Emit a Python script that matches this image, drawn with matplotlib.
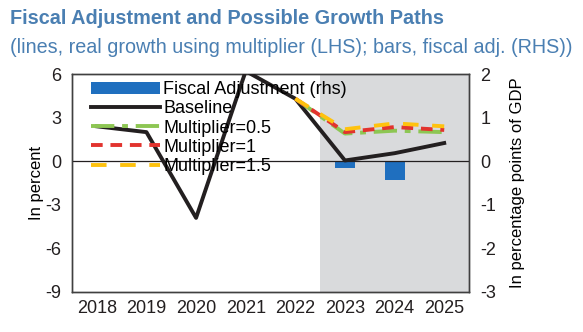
import matplotlib
matplotlib.use("Agg")
import matplotlib.pyplot as plt
import numpy as np

plt.rcParams["font.family"] = ["Liberation Sans", "DejaVu Sans"]
plt.rcParams["axes.unicode_minus"] = False

# ── 데이터 ──
years = ["2018", "2019", "2020", "2021", "2022", "2023", "2024", "2025"]
baseline = [2.4, 2.0, -3.9, 6.2, 4.3, 0.05, 0.55, 1.25]
proj_years = ["2022", "2023", "2024", "2025"]
mult_05 = [4.3, 1.9, 2.1, 2.0]
mult_10 = [4.3, 2.0, 2.35, 2.15]
mult_15 = [4.3, 2.2, 2.6, 2.4]
fiscal_adj = [0, 0, 0, 0, 0, -0.15, -0.42, -0.02]   # rhs, 퍼센트포인트

TITLE_BLUE = "#4A7FB2"
BAR_BLUE = "#1F6FBF"
GREEN = "#8DC653"
RED = "#E2332E"
YELLOW = "#FFC20E"
BLACK = "#231F20"
SHADE = "#D9DADC"

fig = plt.figure(figsize=(5.83, 3.32), dpi=100)
ax = fig.add_axes([0.1235, 0.1205, 0.681, 0.6566])
ax2 = ax.twinx()

x = np.arange(len(years))
px = [years.index(y) for y in proj_years]

# 음영과 막대는 뒤쪽 축(ax2)에, 선은 앞쪽 축(ax)에
ax2.axvspan(4.5, 7.5, color=SHADE, lw=0, zorder=0)
ax2.bar(x, fiscal_adj, width=0.4, color=BAR_BLUE, zorder=2, label="Fiscal Adjustment (rhs)")
ax2.set_ylim(-3, 2)

ax.axhline(0, color=BLACK, lw=0.9, zorder=1)
ax.plot(x, baseline, color=BLACK, lw=2.8, zorder=3, label="Baseline")
ax.plot(px, mult_05, color=GREEN, lw=2.8, dashes=(6, 2, 1.5, 2), zorder=4, label="Multiplier=0.5")
ax.plot(px, mult_10, color=RED, lw=2.8, dashes=(3, 2), zorder=5, label="Multiplier=1")
ax.plot(px, mult_15, color=YELLOW, lw=2.8, dashes=(4, 3.5), zorder=6, label="Multiplier=1.5")

ax.set_zorder(ax2.get_zorder() + 1)
ax.patch.set_visible(False)

ax.set_xlim(-0.5, 7.5)
ax.set_ylim(-9, 6)
ax.set_yticks([-9, -6, -3, 0, 3, 6])
ax.set_xticks(x)
ax.set_xticklabels(years)
ax2.set_yticks([-3, -2, -1, 0, 1, 2])
for a in (ax, ax2):
    a.tick_params(length=0, labelsize=13, pad=8, colors="#231F20")
    for s in a.spines.values():
        s.set_color("#404040")
        s.set_linewidth(1.0)
ax.tick_params(axis="x", pad=6)

ax.set_ylabel("In percent", fontsize=12, labelpad=1)
ax2.set_ylabel("In percentage points of GDP", fontsize=12, labelpad=10)

h1, l1 = ax2.get_legend_handles_labels()
h2, l2 = ax.get_legend_handles_labels()
leg = ax.legend(h1 + h2, l1 + l2, loc="upper left", bbox_to_anchor=(0.03, 1.0), frameon=False,
                fontsize=13, labelspacing=0.12, handlelength=3.8, handletextpad=0.2, borderaxespad=0)

fig.text(0.017, 0.945, "Fiscal Adjustment and Possible Growth Paths", fontsize=14.3, fontweight="bold",
         color=TITLE_BLUE, va="center")
fig.text(0.017, 0.858, "(lines, real growth using multiplier (LHS); bars, fiscal adj. (RHS))", fontsize=14.2,
         color=TITLE_BLUE, va="center")

fig.savefig("out.png", dpi=100, facecolor="white")
